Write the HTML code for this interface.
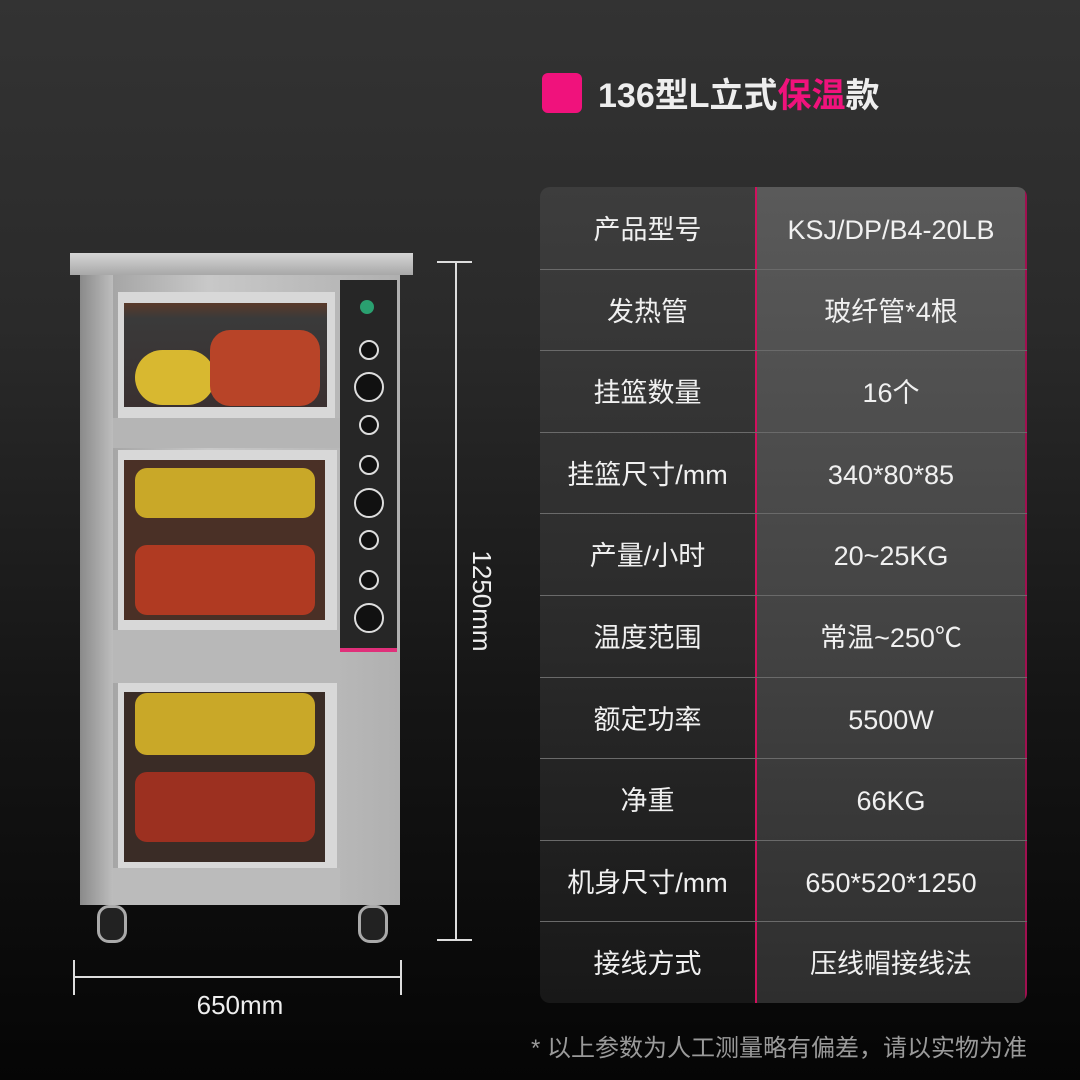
<!DOCTYPE html>
<html><head><meta charset="utf-8"><style>
*{margin:0;padding:0;box-sizing:border-box}
body{width:1080px;height:1080px;overflow:hidden;background:linear-gradient(180deg,#333 0%,#2a2a2a 30%,#151515 65%,#050505 100%);font-family:"Liberation Sans","Noto Sans CJK SC",sans-serif;color:#eee;position:relative}
.a{position:absolute}
.tbl{left:540px;top:187px;width:487px;height:816px;border-radius:10px;overflow:hidden}
.lc{left:0;top:0;width:215px;height:816px;background:linear-gradient(180deg,#3d3d3d,#2c2c2c 50%,#181818)}
.rc{left:215px;top:0;width:272px;height:816px;background:linear-gradient(180deg,#5a5a5a,#454545 50%,#2e2e2e);border-left:2px solid #d0105e;border-right:2px solid #a01050}
.row{position:absolute;left:0;width:487px;height:81.6px;font-size:27px;line-height:81.6px;color:#f0f0f0}
.row span{position:absolute;top:3px;text-align:center}
.row .k{left:0;width:215px}
.row .v{left:215px;width:272px}
.hl{position:absolute;left:0;width:487px;height:1px;background:#6a6a6a}
.steel{background:linear-gradient(90deg,#9a9a9a,#c8c8c8 40%,#b0b0b0)}
.knob{position:absolute;left:359px;width:20px;height:20px;border-radius:50%;background:#111;border:2px solid #ddd}
.big{left:354px;width:30px;height:30px}
</style></head><body>
<div class="a" style="left:542px;top:73px;width:40px;height:40px;background:#f0127c;border-radius:6px"></div>
<div class="a" style="left:598px;top:74px;font-size:34px;font-weight:bold;line-height:44px;white-space:nowrap">136型L立式<span style="color:#f0127c">保温</span>款</div>

<div class="a tbl">
<div class="a lc"></div><div class="a rc"></div>
<div class="row" style="top:0"><span class="k">产品型号</span><span class="v">KSJ/DP/B4-20LB</span></div>
<div class="row" style="top:81.6px"><span class="k">发热管</span><span class="v">玻纤管*4根</span></div>
<div class="row" style="top:163.2px"><span class="k">挂篮数量</span><span class="v">16个</span></div>
<div class="row" style="top:244.8px"><span class="k">挂篮尺寸/mm</span><span class="v">340*80*85</span></div>
<div class="row" style="top:326.4px"><span class="k">产量/小时</span><span class="v">20~25KG</span></div>
<div class="row" style="top:408px"><span class="k">温度范围</span><span class="v">常温~250℃</span></div>
<div class="row" style="top:489.6px"><span class="k">额定功率</span><span class="v">5500W</span></div>
<div class="row" style="top:571.2px"><span class="k">净重</span><span class="v">66KG</span></div>
<div class="row" style="top:652.8px"><span class="k">机身尺寸/mm</span><span class="v">650*520*1250</span></div>
<div class="row" style="top:734.4px"><span class="k">接线方式</span><span class="v">压线帽接线法</span></div>
<div class="hl" style="top:81.6px"></div><div class="hl" style="top:163.2px"></div><div class="hl" style="top:244.8px"></div><div class="hl" style="top:326.4px"></div><div class="hl" style="top:408px"></div><div class="hl" style="top:489.6px"></div><div class="hl" style="top:571.2px"></div><div class="hl" style="top:652.8px"></div><div class="hl" style="top:734.4px"></div>
</div>
<div class="a" style="left:510px;top:1028px;width:517px;text-align:right;font-size:24px;color:#9a9a9a;white-space:nowrap">* 以上参数为人工测量略有偏差，请以实物为准</div>

<div class="a" style="left:70px;top:253px;width:343px;height:22px;background:linear-gradient(180deg,#d5d5d5,#a8a8a8)"></div>
<div class="a steel" style="left:80px;top:275px;width:320px;height:630px"></div>
<div class="a" style="left:80px;top:275px;width:33px;height:630px;background:linear-gradient(90deg,#8a8a8a,#bdbdbd)"></div>
<div class="a" style="left:113px;top:418px;width:227px;height:30px;background:#b5b5b5"></div>
<div class="a" style="left:113px;top:630px;width:227px;height:53px;background:#b8b8b8"></div>
<div class="a" style="left:113px;top:868px;width:227px;height:37px;background:#bbb"></div>
<div class="a" style="left:118px;top:292px;width:217px;height:126px;background:#d8d8d8"></div>
<div class="a" style="left:124px;top:303px;width:203px;height:104px;background:linear-gradient(180deg,#5a3a2a 0,#3a3a3a 15%,#3a3030)"></div>
<div class="a" style="left:135px;top:350px;width:80px;height:55px;background:#d8b830;border-radius:30px"></div>
<div class="a" style="left:210px;top:330px;width:110px;height:76px;background:#b84428;border-radius:20px"></div>
<div class="a" style="left:118px;top:450px;width:219px;height:180px;background:#d8d8d8"></div>
<div class="a" style="left:124px;top:460px;width:201px;height:160px;background:#4a3026"></div>
<div class="a" style="left:135px;top:468px;width:180px;height:50px;background:#c9a828;border-radius:12px"></div>
<div class="a" style="left:135px;top:545px;width:180px;height:70px;background:#b03a22;border-radius:12px"></div>
<div class="a" style="left:118px;top:683px;width:219px;height:185px;background:#d8d8d8"></div>
<div class="a" style="left:124px;top:692px;width:201px;height:170px;background:#3a2c26"></div>
<div class="a" style="left:135px;top:693px;width:180px;height:62px;background:#c9a828;border-radius:12px"></div>
<div class="a" style="left:135px;top:772px;width:180px;height:70px;background:#9c3020;border-radius:12px"></div>
<div class="a" style="left:340px;top:280px;width:57px;height:372px;background:#262626;border-bottom:4px solid #e0307a"></div>
<div class="a" style="left:360px;top:300px;width:14px;height:14px;border-radius:50%;background:#2aa070"></div>
<div class="knob" style="top:340px"></div><div class="knob big" style="top:372px"></div>
<div class="knob" style="top:415px"></div><div class="knob" style="top:455px"></div>
<div class="knob big" style="top:488px"></div><div class="knob" style="top:530px"></div>
<div class="knob" style="top:570px"></div><div class="knob big" style="top:603px"></div>
<div class="a" style="left:97px;top:905px;width:30px;height:38px;background:#222;border:3px solid #aaa;border-radius:12px"></div>
<div class="a" style="left:358px;top:905px;width:30px;height:38px;background:#222;border:3px solid #aaa;border-radius:12px"></div>
<div class="a" style="left:455px;top:262px;width:2px;height:678px;background:#ddd"></div>
<div class="a" style="left:437px;top:261px;width:35px;height:2px;background:#ddd"></div>
<div class="a" style="left:437px;top:939px;width:35px;height:2px;background:#ddd"></div>
<div class="a" style="left:422px;top:586px;width:120px;height:30px;font-size:26px;color:#eee;text-align:center;transform:rotate(90deg)">1250mm</div>
<div class="a" style="left:74px;top:976px;width:327px;height:2px;background:#ddd"></div>
<div class="a" style="left:73px;top:960px;width:2px;height:35px;background:#ddd"></div>
<div class="a" style="left:400px;top:960px;width:2px;height:35px;background:#ddd"></div>
<div class="a" style="left:140px;top:990px;width:200px;text-align:center;font-size:26px;color:#eee">650mm</div>
</body></html>
